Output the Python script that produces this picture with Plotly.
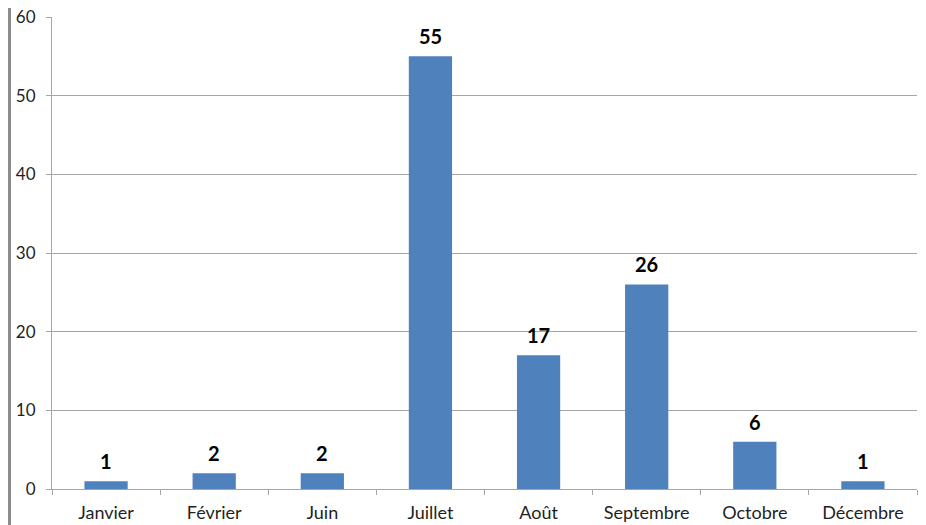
import plotly.graph_objects as go

months = ["Janvier", "Février", "Juin", "Juillet", "Août", "Septembre", "Octobre", "Décembre"]
counts = [1, 2, 2, 55, 17, 26, 6, 1]

bar_color = "#4F81BD"
grid_color = "#A6A6A6"
font_family = "Lato, Liberation Sans, sans-serif"

fig = go.Figure(
    go.Bar(
        x=months,
        y=counts,
        marker=dict(color=bar_color, line=dict(width=0)),
    )
)

for m, c in zip(months, counts):
    fig.add_annotation(
        x=m,
        y=c,
        text=f"<b>{c}</b>",
        showarrow=False,
        yanchor="bottom",
        yshift=6,
        font=dict(family=font_family, size=20, color="#000000"),
    )

# grey border on the left edge of the picture
fig.add_shape(
    type="rect",
    xref="paper", yref="paper",
    x0=-0.0509, x1=-0.0474, y0=-0.1, y1=1.05,
    fillcolor="#8C8C8C", line=dict(width=0), layer="above",
)

fig.update_layout(
    width=926,
    height=525,
    margin=dict(l=44, r=17, t=9, b=44),
    paper_bgcolor="white",
    plot_bgcolor="white",
    bargap=0.6,
    showlegend=False,
    font=dict(family=font_family, size=18, color="#1f1f1f"),
)

fig.update_xaxes(
    type="category",
    automargin=False,
    tickson="boundaries",
    ticks="outside",
    ticklen=5,
    tickcolor=grid_color,
    showline=True,
    linecolor=grid_color,
    showgrid=False,
    ticklabelstandoff=7,
    tickfont=dict(size=18),
)

fig.update_yaxes(
    range=[0, 60],
    dtick=10,
    automargin=False,
    ticks="outside",
    ticklen=5,
    tickcolor=grid_color,
    showline=True,
    linecolor=grid_color,
    showgrid=True,
    gridcolor=grid_color,
    zeroline=False,
    ticklabeloverflow="allow",
    ticklabelstandoff=7,
    tickfont=dict(size=17),
)

fig.write_html("out.html")
